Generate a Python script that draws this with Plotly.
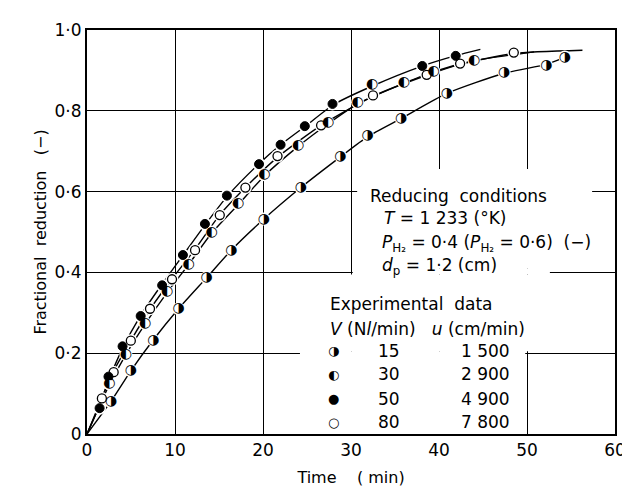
import plotly.graph_objects as go

# ---------------- data ----------------
# experimental points, 15 Nl/min
t15 = [2.73, 4.98, 7.53, 10.42, 13.6, 16.4, 20.1, 24.3, 28.8, 31.9, 35.7, 40.9, 47.4, 52.2, 54.3]
f15 = [0.080, 0.157, 0.232, 0.310, 0.387, 0.455, 0.532, 0.610, 0.688, 0.738, 0.781, 0.843, 0.895, 0.913, 0.933]
# 30 Nl/min
t30 = [2.55, 4.42, 6.6, 9.1, 11.54, 14.16, 17.16, 20.15, 24.0, 27.4, 30.75, 32.4, 36.0, 39.4, 44.0]
f30 = [0.124, 0.197, 0.274, 0.352, 0.419, 0.500, 0.570, 0.642, 0.714, 0.770, 0.821, 0.864, 0.869, 0.898, 0.925]
# 50 Nl/min
t50 = [1.43, 2.44, 4.04, 6.10, 8.54, 10.9, 13.4, 15.9, 19.55, 22.0, 24.75, 27.9, 38.1, 41.9]
f50 = [0.064, 0.142, 0.217, 0.292, 0.368, 0.443, 0.520, 0.590, 0.668, 0.716, 0.762, 0.817, 0.911, 0.936]
# 80 Nl/min
t80 = [1.69, 3.03, 4.98, 7.16, 9.66, 12.28, 15.09, 18.0, 21.65, 26.6, 32.5, 38.6, 42.4, 48.5]
f80 = [0.088, 0.153, 0.231, 0.310, 0.383, 0.455, 0.542, 0.610, 0.688, 0.764, 0.838, 0.889, 0.917, 0.944]

# drawn curves
c15_t = [0, 2.7, 5, 7.5, 10.4, 13.6, 16.4, 20.1, 24.3, 28.8, 31.9, 35.7, 40.9, 47.4, 52.2, 54.3]
c15_f = [0, 0.08, 0.157, 0.232, 0.31, 0.387, 0.455, 0.532, 0.61, 0.686, 0.736, 0.781, 0.843, 0.893, 0.915, 0.932]
c30_t = [0, 2.5, 4.4, 6.6, 9.1, 11.5, 14.2, 17.2, 20.2, 24, 27.4, 30.8, 36, 39.4, 44, 50.8]
c30_f = [0, 0.12, 0.196, 0.272, 0.35, 0.418, 0.498, 0.568, 0.64, 0.712, 0.768, 0.818, 0.868, 0.897, 0.924, 0.946]
c50_t = [0, 1.4, 2.5, 4, 6, 8.5, 11, 13.5, 16, 19.5, 22, 25, 28, 32.5, 38, 42, 44.7]
c50_f = [0, 0.07, 0.135, 0.21, 0.29, 0.37, 0.445, 0.52, 0.59, 0.668, 0.716, 0.765, 0.815, 0.862, 0.91, 0.937, 0.952]
c80_t = [0, 1.7, 3, 5, 7.2, 9.7, 12.3, 15, 18, 21.7, 26.6, 32.5, 38.6, 42.4, 48.5, 56.3]
c80_f = [0, 0.09, 0.155, 0.232, 0.31, 0.385, 0.458, 0.54, 0.61, 0.686, 0.764, 0.836, 0.888, 0.915, 0.942, 0.950]

flows = ["15", "30", "50", "80"]
velocities = ["1 500", "2 900", "4 900", "7 800"]
legend_symbols = ["◑", "◐", "●", "○"]

x_ticks = [0, 10, 20, 30, 40, 50, 60]
y_ticks = [0, 0.2, 0.4, 0.6, 0.8, 1.0]
y_ticktext = ["0", "0·2", "0·4", "0·6", "0·8", "1·0"]

FONT = "DejaVu Sans"

fig = go.Figure()

for ct, cf in [(c15_t, c15_f), (c30_t, c30_f), (c50_t, c50_f), (c80_t, c80_f)]:
    fig.add_trace(go.Scatter(x=ct, y=cf, mode="lines",
                             line=dict(color="black", width=1.4, shape="spline", smoothing=0.6),
                             hoverinfo="skip", showlegend=False))

# white halo round every point: the drawn curves stop short of the symbols
fig.add_trace(go.Scatter(x=t15 + t30 + t50 + t80, y=f15 + f30 + f50 + f80, mode="markers",
                         marker=dict(symbol="circle", size=13, color="white", line=dict(width=0)),
                         hoverinfo="skip", showlegend=False))

# open and filled markers
fig.add_trace(go.Scatter(x=t80, y=f80, mode="markers",
                         marker=dict(symbol="circle", size=9, color="white",
                                     line=dict(color="black", width=1.3)), showlegend=False))
fig.add_trace(go.Scatter(x=t50, y=f50, mode="markers",
                         marker=dict(symbol="circle", size=9, color="black",
                                     line=dict(color="black", width=1)), showlegend=False))
# half-filled markers
for tt, ff, sym in [(t15, f15, "◑"), (t30, f30, "◐")]:
    fig.add_trace(go.Scatter(x=tt, y=ff, mode="markers+text", text=[sym] * len(tt),
                             textposition="middle center",
                             textfont=dict(family=FONT, size=14, color="black"),
                             marker=dict(symbol="circle", size=8, color="white",
                                         line=dict(width=0)),
                             showlegend=False))

# white patches that interrupt the grid behind the notes
patches = [(30.7, 57.4, 0.41, 0.656), (30.2, 52.6, 0.395, 0.41),
           (24.2, 52.6, 0.205, 0.395), (24.2, 49.8, 0.0, 0.205)]
for x0, x1, y0, y1 in patches:
    fig.add_shape(type="rect", xref="x", yref="y", x0=x0, x1=x1, y0=y0, y1=y1,
                  fillcolor="white", line=dict(width=0), layer="between")

def note(px, py, text, anchor="left", size=17):
    fig.add_annotation(x=(px - 79) / 8.9, y=(428 - py) / 413, xref="x", yref="y",
                       text=text, showarrow=False, xanchor=anchor, yanchor="middle",
                       font=dict(family=FONT, size=size, color="black"))

note(363, 185, "Reducing  conditions")
note(377, 207, "<i>T</i> = 1 233 (°K)")
note(375, 233, "<i>P</i><sub>H₂</sub> = 0·4 (<i>P</i><sub>H₂</sub> = 0·6)  (−)")
note(375, 257, "<i>d</i><sub>p</sub> = 1·2 (cm)")
note(323, 295, "Experimental  data")
note(323, 321, "<i>V</i> (N<i>l</i>/min)   <i>u</i> (cm/min)")
row_y = [343, 367, 392, 416]
for ry, sym, fl, vel in zip(row_y, legend_symbols, flows, velocities):
    note(328, ry, sym, anchor="center", size=13)
    note(384, ry, fl, anchor="center")
    note(509, ry, vel, anchor="right")

fig.update_layout(
    width=630, height=488,
    margin=dict(l=79, r=17, t=15, b=60),
    paper_bgcolor="white", plot_bgcolor="white",
    font=dict(family=FONT, size=17, color="black"),
    showlegend=False,
    xaxis=dict(range=[0, 60], tickvals=x_ticks, showgrid=True, gridcolor="black", gridwidth=1.2,
               showline=True, linecolor="black", linewidth=2, mirror=True, zeroline=False,
               ticks="", ticklen=0, tickfont=dict(size=17),
               title=dict(text="Time    ( min)", font=dict(size=16), standoff=12)),
    yaxis=dict(range=[0, 1.0], tickvals=y_ticks, ticktext=y_ticktext, showgrid=True,
               gridcolor="black", gridwidth=1.2, showline=True, linecolor="black", linewidth=2,
               mirror=True, zeroline=False, ticks="", ticklen=0, tickfont=dict(size=17),
               title=dict(text="Fractional  reduction   (−)", font=dict(size=16), standoff=4)),
)

fig.write_html("out.html")
